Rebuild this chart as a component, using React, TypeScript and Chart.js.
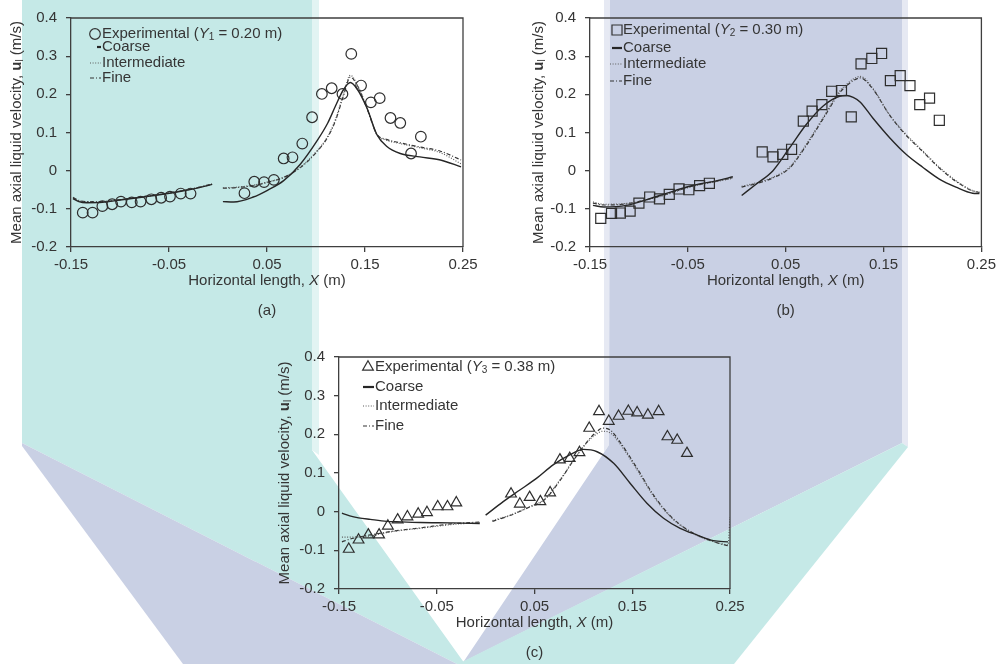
import React, { useEffect, useRef } from 'react';
import { Chart, registerables } from 'chart.js';

Chart.register(...registerables);

// ---------- axis ticks ----------
const X_TICKS = [-0.15, -0.05, 0.05, 0.15, 0.25];
const X_TICK_LABELS = ['-0.15', '-0.05', '0.05', '0.15', '0.25'];
const Y_TICKS = [-0.2, -0.1, 0, 0.1, 0.2, 0.3, 0.4];
const Y_TICK_LABELS = ['-0.2', '-0.1', '0', '0.1', '0.2', '0.3', '0.4'];

// ---------- text ----------
const EXP_LABEL = 'Experimental';
const LEVEL_SYMBOL = 'Y';
const MESH_LABELS = ['Coarse', 'Intermediate', 'Fine'];
const Y_TITLE_MAIN = 'Mean axial liquid velocity, ';
const Y_TITLE_SYMBOL = 'u';
const Y_TITLE_SUB = 'l';
const Y_TITLE_UNIT = ' (m/s)';
const X_TITLE_MAIN = 'Horizontal length, ';
const X_TITLE_SYMBOL = 'X';
const X_TITLE_UNIT = ' (m)';
const CAPTIONS = ['(a)', '(b)', '(c)'];
const LEVEL_SUBS = ['1', '2', '3'];
const LEVEL_VALUES = ['0.20', '0.30', '0.38'];

// ---------- panel (a): Y1 = 0.20 m ----------
const A_EXP_X = [-0.138, -0.128, -0.118, -0.108, -0.099, -0.088, -0.079, -0.068, -0.058, -0.049, -0.038, -0.028,
  0.027, 0.037, 0.047, 0.057, 0.067, 0.076, 0.086, 0.096, 0.106, 0.116, 0.127, 0.136, 0.146, 0.156, 0.165, 0.176, 0.186, 0.197, 0.207];
const A_EXP_Y = [-0.110, -0.110, -0.093, -0.088, -0.081, -0.083, -0.081, -0.075, -0.071, -0.068, -0.060, -0.060,
  -0.059, -0.029, -0.030, -0.024, 0.032, 0.035, 0.071, 0.140, 0.201, 0.216, 0.201, 0.306, 0.223, 0.179, 0.190, 0.138, 0.125, 0.045, 0.089];
const A_LEFT_X = [-0.148, -0.142, -0.134, -0.118, -0.100, -0.076, -0.042, -0.020, -0.006];
const A_COARSE_L = [-0.073, -0.081, -0.084, -0.083, -0.077, -0.069, -0.056, -0.045, -0.036];
const A_INTER_L = [-0.072, -0.079, -0.082, -0.081, -0.076, -0.068, -0.055, -0.044, -0.035];
const A_FINE_L = [-0.070, -0.078, -0.081, -0.081, -0.076, -0.068, -0.055, -0.044, -0.035];
const A_RIGHT_X = [0.005, 0.016, 0.036, 0.050, 0.067, 0.084, 0.101, 0.112, 0.120, 0.128, 0.135, 0.142, 0.152, 0.162, 0.172, 0.186, 0.206, 0.227, 0.248];
const A_COARSE_R = [-0.081, -0.082, -0.069, -0.052, -0.026, 0.017, 0.078, 0.125, 0.170, 0.212, 0.231, 0.214, 0.164, 0.095, 0.064, 0.045, 0.036, 0.028, 0.010];
const A_INTER_R = [-0.045, -0.044, -0.038, -0.030, -0.017, 0.009, 0.052, 0.090, 0.135, 0.200, 0.250, 0.226, 0.165, 0.095, 0.080, 0.071, 0.060, 0.047, 0.018];
const A_FINE_R = [-0.046, -0.045, -0.039, -0.031, -0.018, 0.008, 0.050, 0.088, 0.132, 0.196, 0.245, 0.224, 0.163, 0.096, 0.082, 0.073, 0.062, 0.051, 0.028];

// ---------- panel (b): Y2 = 0.30 m ----------
const B_EXP_X = [-0.139, -0.128, -0.119, -0.109, -0.100, -0.089, -0.079, -0.069, -0.059, -0.049, -0.038, -0.028,
  0.026, 0.037, 0.047, 0.056, 0.068, 0.077, 0.087, 0.097, 0.107, 0.117, 0.127, 0.138, 0.148, 0.157, 0.167, 0.177, 0.187, 0.197, 0.207];
const B_EXP_Y = [-0.125, -0.112, -0.111, -0.106, -0.085, -0.069, -0.074, -0.062, -0.048, -0.050, -0.039, -0.033,
  0.049, 0.036, 0.043, 0.056, 0.130, 0.156, 0.173, 0.208, 0.210, 0.141, 0.280, 0.294, 0.307, 0.236, 0.249, 0.223, 0.173, 0.190, 0.132];
const B_LEFT_X = [-0.147, -0.136, -0.113, -0.079, -0.045, -0.020, -0.004];
const B_COARSE_L = [-0.091, -0.095, -0.091, -0.065, -0.039, -0.026, -0.016];
const B_INTER_L = [-0.082, -0.088, -0.086, -0.068, -0.041, -0.028, -0.020];
const B_FINE_L = [-0.085, -0.090, -0.087, -0.067, -0.040, -0.027, -0.019];
const B_RIGHT_X = [0.005, 0.020, 0.037, 0.054, 0.071, 0.088, 0.105, 0.112, 0.119, 0.126, 0.139, 0.156, 0.173, 0.190, 0.207, 0.224, 0.241, 0.248];
const B_COARSE_R = [-0.065, -0.035, 0.000, 0.060, 0.121, 0.169, 0.195, 0.197, 0.192, 0.180, 0.138, 0.087, 0.043, 0.009, -0.022, -0.043, -0.059, -0.060];
const B_INTER_R = [-0.041, -0.032, -0.017, 0.009, 0.069, 0.138, 0.208, 0.226, 0.240, 0.247, 0.216, 0.147, 0.095, 0.052, 0.009, -0.026, -0.052, -0.056];
const B_FINE_R = [-0.043, -0.034, -0.019, 0.007, 0.066, 0.135, 0.204, 0.222, 0.236, 0.243, 0.214, 0.146, 0.093, 0.050, 0.007, -0.028, -0.053, -0.057];

// ---------- panel (c): Y3 = 0.38 m ----------
const C_EXP_X = [-0.140, -0.130, -0.120, -0.109, -0.100, -0.090, -0.080, -0.069, -0.060, -0.049, -0.039, -0.030,
  0.026, 0.035, 0.045, 0.056, 0.066, 0.076, 0.086, 0.096, 0.106, 0.116, 0.126, 0.136, 0.146, 0.155, 0.166, 0.177, 0.186, 0.196, 0.206];
const C_EXP_Y = [-0.097, -0.073, -0.060, -0.060, -0.037, -0.021, -0.013, -0.006, -0.002, 0.013, 0.013, 0.023,
  0.046, 0.020, 0.037, 0.026, 0.049, 0.134, 0.138, 0.153, 0.216, 0.259, 0.234, 0.247, 0.260, 0.256, 0.250, 0.259, 0.194, 0.185, 0.151];
const C_LEFT_X = [-0.147, -0.139, -0.130, -0.118, -0.101, -0.091, -0.067, -0.033, -0.006];
const C_COARSE_L = [-0.004, -0.011, -0.016, -0.020, -0.025, -0.026, -0.028, -0.029, -0.031];
const C_INTER_L = [-0.066, -0.066, -0.065, -0.063, -0.054, -0.050, -0.043, -0.033, -0.028];
const C_FINE_L = [-0.078, -0.071, -0.066, -0.060, -0.053, -0.049, -0.042, -0.031, -0.027];
const C_COARSE_R_X = [0.000, 0.018, 0.035, 0.052, 0.069, 0.086, 0.100, 0.114, 0.131, 0.148, 0.165, 0.182, 0.199, 0.216, 0.233, 0.248];
const C_COARSE_R = [-0.009, 0.026, 0.056, 0.086, 0.121, 0.147, 0.161, 0.155, 0.125, 0.073, 0.022, -0.017, -0.043, -0.060, -0.075, -0.078];
const C_INTER_R_X = [0.007, 0.025, 0.045, 0.059, 0.076, 0.090, 0.103, 0.112, 0.120, 0.128, 0.137, 0.155, 0.172, 0.189, 0.206, 0.223, 0.240, 0.248, 0.250];
const C_INTER_R = [-0.023, -0.009, 0.013, 0.030, 0.082, 0.134, 0.177, 0.198, 0.208, 0.203, 0.177, 0.108, 0.039, -0.013, -0.047, -0.069, -0.082, -0.086, -0.014];
const C_FINE_R_X = [0.007, 0.025, 0.045, 0.059, 0.076, 0.090, 0.103, 0.112, 0.120, 0.128, 0.137, 0.155, 0.172, 0.189, 0.206, 0.223, 0.240, 0.248];
const C_FINE_R = [-0.025, -0.010, 0.012, 0.028, 0.080, 0.133, 0.178, 0.203, 0.216, 0.210, 0.182, 0.112, 0.042, -0.011, -0.046, -0.068, -0.083, -0.088];

// ---------- styles ----------
const FAMILY = '"Liberation Sans", Arial, Helvetica, sans-serif';
const TEXT = '#353535';
const AXIS = '#3f3f3f';
const TEAL = '#c5e9e7';
const TEAL_LIGHT = '#e2f4f3';
const PURPLE = '#c9d0e4';
const PURPLE_LIGHT = '#e6e9f3';
const F = (size: number, style = '') => `${style} ${size}px ${FAMILY}`.trim();

const LINE_STYLES = [
  { color: '#262626', width: 1.4, dash: [] as number[], legendWidth: 2.2 },
  { color: '#5a5a5a', width: 1.2, dash: [1, 1.6], legendWidth: 1.2 },
  { color: '#333333', width: 1.2, dash: [4, 2, 1, 2], legendWidth: 1.2 },
];

type Curve = { x: number[]; y: number[] };
type Panel = {
  key: string;
  left: number; top: number; width: number; height: number;
  pad: { left: number; top: number; right: number; bottom: number };
  yWidth: number; xHeight: number; yTitleX: number;
  marker: 'circle' | 'rect' | 'triangle'; radius: number;
  sub: string; level: string; caption: string;
  exp: Curve;
  meshes: Curve[][]; // [coarse, inter, fine] each with segments
  legend: { markerDx: number; rowDy: number[]; textDx: number; sampleDx: number[] };
};

const PANELS: Panel[] = [
  {
    key: 'a', left: 0, top: 0, width: 500, height: 330,
    pad: { left: 0, top: 16, right: 37, bottom: 0 }, yWidth: 71, xHeight: 83, yTitleX: 17,
    marker: 'circle', radius: 5.3, sub: LEVEL_SUBS[0], level: LEVEL_VALUES[0], caption: CAPTIONS[0],
    exp: { x: A_EXP_X, y: A_EXP_Y },
    meshes: [
      [{ x: A_LEFT_X, y: A_COARSE_L }, { x: A_RIGHT_X, y: A_COARSE_R }],
      [{ x: A_LEFT_X, y: A_INTER_L }, { x: A_RIGHT_X, y: A_INTER_R }],
      [{ x: A_LEFT_X, y: A_FINE_L }, { x: A_RIGHT_X, y: A_FINE_R }],
    ],
    legend: { markerDx: 24, rowDy: [16, 29, 45, 60], textDx: 31, sampleDx: [26, 19, 19] },
  },
  {
    key: 'b', left: 500, top: 0, width: 500, height: 330,
    pad: { left: 0, top: 16, right: 18, bottom: 0 }, yWidth: 90, xHeight: 83, yTitleX: 39,
    marker: 'rect', radius: 7.1, sub: LEVEL_SUBS[1], level: LEVEL_VALUES[1], caption: CAPTIONS[1],
    exp: { x: B_EXP_X, y: B_EXP_Y },
    meshes: [
      [{ x: B_LEFT_X, y: B_COARSE_L }, { x: B_RIGHT_X, y: B_COARSE_R }],
      [{ x: B_LEFT_X, y: B_INTER_L }, { x: B_RIGHT_X, y: B_INTER_R }],
      [{ x: B_LEFT_X, y: B_FINE_L }, { x: B_RIGHT_X, y: B_FINE_R }],
    ],
    legend: { markerDx: 27, rowDy: [12, 30, 46, 63], textDx: 33, sampleDx: [22, 20, 20] },
  },
  {
    key: 'c', left: 250, top: 330, width: 520, height: 334,
    pad: { left: 0, top: 27, right: 40, bottom: 0 }, yWidth: 89, xHeight: 75, yTitleX: 35,
    marker: 'triangle', radius: 6.2, sub: LEVEL_SUBS[2], level: LEVEL_VALUES[2], caption: CAPTIONS[2],
    exp: { x: C_EXP_X, y: C_EXP_Y },
    meshes: [
      [{ x: C_LEFT_X, y: C_COARSE_L }, { x: C_COARSE_R_X, y: C_COARSE_R }],
      [{ x: C_LEFT_X, y: C_INTER_L }, { x: C_INTER_R_X, y: C_INTER_R }],
      [{ x: C_LEFT_X, y: C_FINE_L }, { x: C_FINE_R_X, y: C_FINE_R }],
    ],
    legend: { markerDx: 29, rowDy: [10, 30, 49, 69], textDx: 36, sampleDx: [24, 24, 24] },
  },
];

type Seg = { t: string; font: string; dy?: number };
function segWidth(ctx: CanvasRenderingContext2D, segs: Seg[]) {
  let w = 0;
  for (const s of segs) { ctx.font = s.font; w += ctx.measureText(s.t).width; }
  return w;
}
function drawSegs(ctx: CanvasRenderingContext2D, segs: Seg[], x: number, y: number) {
  for (const s of segs) {
    ctx.font = s.font;
    ctx.fillText(s.t, x, y + (s.dy || 0));
    x += ctx.measureText(s.t).width;
  }
  return x;
}
function drawMarker(ctx: CanvasRenderingContext2D, kind: string, x: number, y: number, r: number) {
  ctx.beginPath();
  if (kind === 'circle') ctx.arc(x, y, r, 0, Math.PI * 2);
  else if (kind === 'rect') { const s = r * Math.SQRT1_2; ctx.rect(x - s, y - s, 2 * s, 2 * s); }
  else {
    const h = Math.sin(Math.PI / 3) * r;
    ctx.moveTo(x, y - r); ctx.lineTo(x + h, y + r / 2); ctx.lineTo(x - h, y + r / 2); ctx.closePath();
  }
  ctx.stroke();
}

function makeOverlay(p: Panel) {
  return {
    id: 'overlay_' + p.key,
    afterDraw(chart: any) {
      const ctx: CanvasRenderingContext2D = chart.ctx;
      const a = chart.chartArea;
      ctx.save();
      // frame (top and right)
      ctx.strokeStyle = AXIS;
      ctx.lineWidth = 1.3;
      ctx.beginPath();
      ctx.moveTo(a.left, a.top);
      ctx.lineTo(a.right, a.top);
      ctx.lineTo(a.right, a.bottom);
      ctx.stroke();

      ctx.fillStyle = TEXT;
      ctx.textBaseline = 'middle';
      ctx.textAlign = 'left';

      // y title
      const ySegs: Seg[] = [
        { t: Y_TITLE_MAIN, font: F(15) },
        { t: Y_TITLE_SYMBOL, font: F(15, 'bold') },
        { t: Y_TITLE_SUB, font: F(10), dy: 3 },
        { t: Y_TITLE_UNIT, font: F(15) },
      ];
      ctx.save();
      ctx.translate(p.yTitleX, (a.top + a.bottom) / 2);
      ctx.rotate(-Math.PI / 2);
      drawSegs(ctx, ySegs, -segWidth(ctx, ySegs) / 2, 0);
      ctx.restore();

      // x title
      const xSegs: Seg[] = [
        { t: X_TITLE_MAIN, font: F(15) },
        { t: X_TITLE_SYMBOL, font: F(15, 'italic') },
        { t: X_TITLE_UNIT, font: F(15) },
      ];
      const cx = (a.left + a.right) / 2;
      drawSegs(ctx, xSegs, cx - segWidth(ctx, xSegs) / 2, a.bottom + 34);

      // caption
      ctx.font = F(15);
      ctx.textAlign = 'center';
      ctx.fillText(p.caption, cx, a.bottom + 64);
      ctx.textAlign = 'left';

      // legend
      const L = p.legend;
      const tx = a.left + L.textDx;
      const y0 = a.top + L.rowDy[0];
      ctx.strokeStyle = '#333';
      ctx.lineWidth = 1.2;
      drawMarker(ctx, p.marker, a.left + L.markerDx, y0, p.radius);
      drawSegs(ctx, [
        { t: EXP_LABEL + ' (', font: F(15) },
        { t: LEVEL_SYMBOL, font: F(15, 'italic') },
        { t: p.sub, font: F(10), dy: 3 },
        { t: ' = ' + p.level + ' m)', font: F(15) },
      ], tx, y0);
      MESH_LABELS.forEach((lab, i) => {
        const y = a.top + L.rowDy[i + 1];
        const st = LINE_STYLES[i];
        ctx.strokeStyle = st.color;
        ctx.lineWidth = st.legendWidth;
        ctx.setLineDash(st.dash);
        ctx.beginPath();
        ctx.moveTo(a.left + L.sampleDx[i], y);
        ctx.lineTo(tx - 1, y);
        ctx.stroke();
        ctx.setLineDash([]);
        ctx.font = F(15);
        ctx.fillText(lab, tx, y);
      });
      ctx.restore();
    },
  };
}

const pts = (c: Curve) => c.x.map((x, i) => ({ x, y: c.y[i] }));

function PanelChart({ p }: { p: Panel }) {
  const ref = useRef<HTMLCanvasElement | null>(null);
  useEffect(() => {
    if (!ref.current) return;
    const datasets: any[] = [];
    datasets.push({
      label: EXP_LABEL,
      data: pts(p.exp),
      showLine: false,
      pointStyle: p.marker,
      pointRadius: p.radius,
      pointBorderWidth: 1.2,
      borderColor: '#2e2e2e',
      backgroundColor: 'rgba(0,0,0,0)',
    });
    p.meshes.forEach((segs, i) => {
      const st = LINE_STYLES[i];
      segs.forEach((seg) => {
        datasets.push({
          label: MESH_LABELS[i],
          data: pts(seg),
          showLine: true,
          pointRadius: 0,
          borderColor: st.color,
          borderWidth: st.width,
          borderDash: st.dash,
          cubicInterpolationMode: 'monotone',
          fill: false,
        });
      });
    });
    const tickFont = { family: FAMILY, size: 15 };
    const chart = new Chart(ref.current, {
      type: 'scatter',
      data: { datasets },
      options: {
        animation: false,
        responsive: false,
        devicePixelRatio: 1,
        layout: { padding: p.pad },
        plugins: { legend: { display: false }, tooltip: { enabled: false }, title: { display: false } },
        scales: {
          x: {
            type: 'linear', min: -0.15, max: 0.25,
            afterBuildTicks: (s: any) => { s.ticks = X_TICKS.map((v) => ({ value: v })); },
            afterFit: (s: any) => { s.height = p.xHeight; },
            ticks: {
              font: tickFont, color: TEXT, padding: 4, maxRotation: 0, autoSkip: false,
              callback: (v: any) => X_TICK_LABELS[X_TICKS.findIndex((t) => Math.abs(t - v) < 1e-9)],
            },
            grid: { drawOnChartArea: false, drawTicks: true, tickLength: 5, color: AXIS, lineWidth: 1.3 },
            border: { display: true, color: AXIS, width: 1.3 },
          },
          y: {
            type: 'linear', min: -0.2, max: 0.4,
            afterBuildTicks: (s: any) => { s.ticks = Y_TICKS.map((v) => ({ value: v })); },
            afterFit: (s: any) => { s.width = p.yWidth; },
            ticks: {
              font: tickFont, color: TEXT, padding: 9, autoSkip: false,
              callback: (v: any) => Y_TICK_LABELS[Y_TICKS.findIndex((t) => Math.abs(t - v) < 1e-9)],
            },
            grid: { drawOnChartArea: false, drawTicks: true, tickLength: 5, color: AXIS, lineWidth: 1.3 },
            border: { display: true, color: AXIS, width: 1.3 },
          },
        },
      } as any,
      plugins: [makeOverlay(p)],
    });
    return () => chart.destroy();
  }, [p]);
  return (
    <canvas
      ref={ref}
      width={p.width}
      height={p.height}
      style={{ position: 'absolute', left: p.left, top: p.top, width: p.width, height: p.height }}
    />
  );
}

export default function App() {
  return (
    <div style={{ position: 'fixed', left: 0, top: 0, width: 1000, height: 664, background: '#ffffff', overflow: 'hidden' }}>
      <svg width={1000} height={664} style={{ position: 'absolute', left: 0, top: 0 }}>
        <polygon points="22,0 312,0 312,450 465,664 457,664 22,443" fill={TEAL} />
        <polygon points="312,0 319,0 319,455 312,450" fill={TEAL_LIGHT} />
        <polygon points="22,443 457,664 183,664 22,446" fill={PURPLE} />
        <polygon points="604,0 610,0 609,445 604,452" fill={PURPLE_LIGHT} />
        <polygon points="610,0 902,0 902,443 459,664 462,664 609,445" fill={PURPLE} />
        <polygon points="902,0 908,0 908,447 902,443" fill={PURPLE_LIGHT} />
        <polygon points="902,443 908,447 734,664 458,664" fill={TEAL} />
      </svg>
      {PANELS.map((p) => (
        <PanelChart key={p.key} p={p} />
      ))}
    </div>
  );
}
